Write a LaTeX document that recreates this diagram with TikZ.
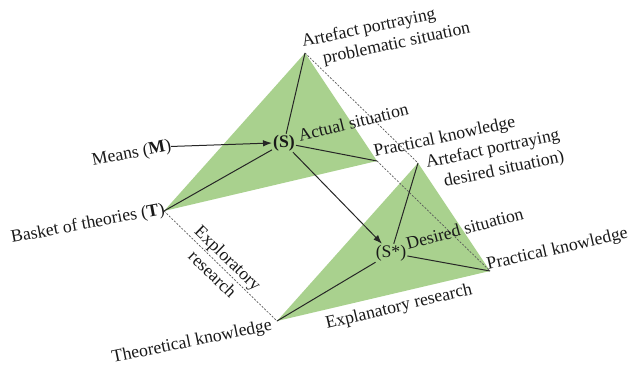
\documentclass[tikz,border=0pt]{standalone}
\usepackage{fontspec}
\setmainfont{Liberation Serif}
\usetikzlibrary{arrows.meta,calc}
\definecolor{tri}{HTML}{A9D18E}
\begin{document}
\begin{tikzpicture}[x=1pt,y=-1pt,
  lbl/.style={inner sep=0pt, font=\fontsize{17.7}{21}\selectfont, text=black!90},
  edge/.style={line width=1pt, draw=black!85},
  dashln/.style={line width=0.7pt, draw=black!65, dash pattern=on 2pt off 1.5pt},
  arr/.style={edge, -{Latex[length=9pt,width=6.5pt]}},
  snode/.style={inner sep=1pt, font=\fontsize{17.7}{21}\selectfont, text=black!90}]
\useasboundingbox (0,0) rectangle (630,367);
% vertices
\coordinate (A1) at (305,53);
\coordinate (T1) at (164,211);
\coordinate (P1) at (377,161);
\coordinate (A2) at (418,163);
\coordinate (T2) at (277,321);
\coordinate (P2) at (490,271);
% green triangles
\fill[tri] (A1) -- (T1) -- (P1) -- cycle;
\fill[tri] (A2) -- (T2) -- (P2) -- cycle;
% dashed links
\draw[dashln] (A1) -- (A2);
\draw[dashln] (P1) -- (P2);
\draw[dashln] (T1) -- (T2);
% situation nodes
\node[snode, font=\fontsize{17.7}{21}\selectfont\bfseries] (S) at (284,143) {(S)};
\node[snode] (Ss) at (391,253) {(S*)};
\draw[edge] (S) -- (A1);
\draw[edge] (S) -- (P1);
\draw[edge] (S) -- (T1);
\draw[edge] (Ss) -- (A2);
\draw[edge] (Ss) -- (P2);
\draw[edge] (Ss) -- (T2);
\draw[arr] (S) -- (Ss);
% labels
\node[lbl, rotate=11, anchor=base west] (M) at (93,166) {Means (\textbf{M})};
\draw[arr] (M.east) -- (S.west);
\node[lbl, rotate=12, anchor=base west] (a1a) at (303,47) {Artefact portraying};
\node[lbl, rotate=12, anchor=base west] (a1b) at (324,64) {problematic situation};
\node[lbl, rotate=10.7, anchor=base west] (bt) at (12,243) {Basket of theories (\textbf{T})};
\node[lbl, rotate=14, anchor=base west] (as) at (300,142) {Actual situation};
\node[lbl, rotate=12, anchor=base west] (pk1) at (375,157) {Practical knowledge};
\node[lbl, rotate=12, anchor=base west] (a2a) at (427,168) {Artefact portraying};
\node[lbl, rotate=12, anchor=base west] (a2b) at (445,187) {desired situation)};
\node[lbl, rotate=15, anchor=base west] (ds) at (408,250) {Desired situation};
\node[lbl, rotate=13, anchor=base west] (pk2) at (488,270) {Practical knowledge};
\node[lbl, rotate=13.5, anchor=base west] (er) at (327,329) {Explanatory research};
\node[lbl, rotate=11.7, anchor=base west] (tk) at (113,363) {Theoretical knowledge};
\node[lbl, rotate=-44, align=center] (xr) at ($(T1)!0.5!(T2)$) {Exploratory\\[1.5pt]research};
\end{tikzpicture}
\end{document}
